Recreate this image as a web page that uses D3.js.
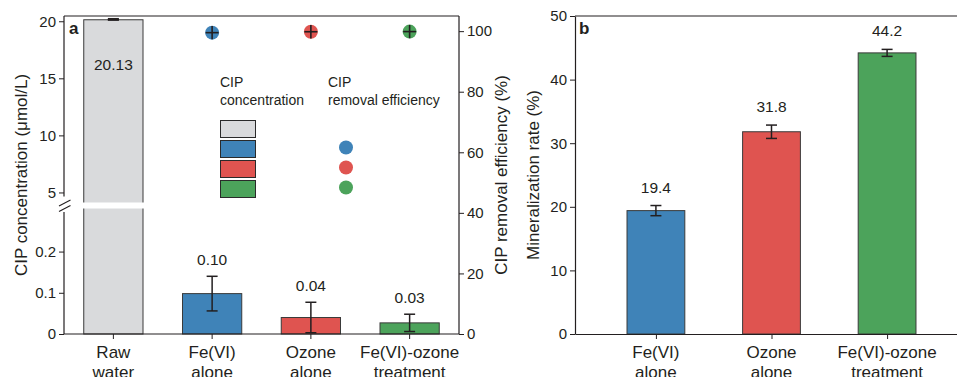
<!DOCTYPE html>
<html><head><meta charset="utf-8">
<script src="https://cdn.jsdelivr.net/npm/d3@7"></script>
<style>
body{margin:0;background:#fff;}
svg{font-family:"Liberation Sans",Arial,Helvetica,sans-serif;}
</style></head>
<body><svg id="c" width="957" height="377"></svg>
<script>
// ---------- data ----------
const catsA = ["Raw\nwater", "Fe(VI)\nalone", "Ozone\nalone", "Fe(VI)-ozone\ntreatment"];
const concValues = [20.13, 0.098, 0.040, 0.027];
const concErr = [0.03, 0.042, 0.037, 0.021];
const concLabels = ["20.13", "0.10", "0.04", "0.03"];
const removalValues = [null, 99.5, 99.8, 99.85];
const removalErr = [null, 2.2, 2.2, 2.2];
const upperTicks = [5, 10, 15, 20];
const lowerTicks = [0, 0.1, 0.2];
const rightTicks = [0, 20, 40, 60, 80, 100];

const catsB = ["Fe(VI)\nalone", "Ozone\nalone", "Fe(VI)-ozone\ntreatment"];
const mineralValues = [19.4, 31.8, 44.2];
const mineralErr = [0.8, 1.05, 0.55];
const mineralLabels = ["19.4", "31.8", "44.2"];
const mineralTicks = [0, 10, 20, 30, 40, 50];

const colors = ["#d9dadc", "#3f83b8", "#df5450", "#4ca35b"];
const ink = "#231f20";

const svg = d3.select("#c");
const font = "Liberation Sans, Arial, sans-serif";

// ---------- panel a ----------
const A = {left: 64, right: 459, top: 16, bottom: 334, breakHi: 202.5, breakLo: 208.5};
const xA = d3.scaleBand().domain(catsA).range([A.left, A.right]).paddingInner(0.4).paddingOuter(0.2);
const yLow = d3.scaleLinear().domain([0, 0.3045]).range([A.bottom, A.breakLo]);
const yUp = d3.scaleLinear().domain([4.12, 20.46]).range([A.breakHi, A.top]);
const yR = d3.scaleLinear().domain([0, 105]).range([A.bottom, A.top]);
function yConc(v){ return v > 0.31 ? yUp(v) : yLow(v); }

const gA = svg.append("g");
// bars
catsA.forEach((c, i) => {
  const v = concValues[i];
  const x0 = xA(c), w = xA.bandwidth();
  gA.append("rect").attr("x", x0).attr("y", yConc(v)).attr("width", w)
    .attr("height", A.bottom - yConc(v)).attr("fill", colors[i])
    .attr("stroke", "#3a3a3a").attr("stroke-width", 1);
});
// break gap across raw water bar
gA.append("rect").attr("x", xA(catsA[0]) - 3).attr("y", A.breakHi)
  .attr("width", xA.bandwidth() + 6).attr("height", A.breakLo - A.breakHi).attr("fill", "#fff");

// error bars
catsA.forEach((c, i) => {
  const v = concValues[i], e = concErr[i];
  const cx = xA(c) + xA.bandwidth() / 2;
  const y1 = yConc(v + e), y2 = yConc(Math.max(0, v - e));
  const g = gA.append("g").attr("stroke", ink).attr("stroke-width", i === 0 ? 1.2 : 1.5);
  g.append("line").attr("x1", cx).attr("x2", cx).attr("y1", y1).attr("y2", y2);
  g.append("line").attr("x1", cx - 5.5).attr("x2", cx + 5.5).attr("y1", y1).attr("y2", y1);
  g.append("line").attr("x1", cx - 5.5).attr("x2", cx + 5.5).attr("y1", y2).attr("y2", y2);
  if (i === 0) {
    gA.append("rect").attr("x", cx - 5.5).attr("y", yConc(v) - 1.8).attr("width", 11).attr("height", 2.6).attr("fill", ink);
  }
  // value labels
  const ly = i === 0 ? 70 : yConc(v + e) - 11;
  gA.append("text").attr("x", cx).attr("y", ly).attr("text-anchor", "middle")
    .attr("font-size", 15.5).attr("fill", ink).text(concLabels[i]);
});

// removal efficiency points
catsA.forEach((c, i) => {
  if (removalValues[i] == null) return;
  const cx = xA(c) + xA.bandwidth() / 2, cy = yR(removalValues[i]);
  gA.append("circle").attr("cx", cx).attr("cy", cy).attr("r", 7).attr("fill", colors[i]);
  const e = removalErr[i];
  gA.append("line").attr("x1", cx).attr("x2", cx).attr("y1", yR(removalValues[i] + e)).attr("y2", yR(removalValues[i] - e))
    .attr("stroke", ink).attr("stroke-width", 1.6);
  gA.append("line").attr("x1", cx - 6.5).attr("x2", cx + 6.5).attr("y1", cy).attr("y2", cy)
    .attr("stroke", ink).attr("stroke-width", 1.6);
});

// frame
gA.append("line").attr("x1", A.left).attr("x2", A.right).attr("y1", A.top).attr("y2", A.top).attr("stroke", ink).attr("stroke-width", 1.2);
gA.append("line").attr("x1", A.right).attr("x2", A.right).attr("y1", A.top).attr("y2", A.bottom).attr("stroke", ink).attr("stroke-width", 1.2);

function styleAxis(g, fs) {
  g.selectAll("path").attr("stroke", ink).attr("stroke-width", 1.2);
  g.selectAll("line").attr("stroke", ink).attr("stroke-width", 1);
  g.selectAll("text").attr("fill", ink).attr("font-size", fs).attr("font-family", font);
}
// left upper axis
const axUp = gA.append("g").attr("transform", `translate(${A.left},0)`)
  .call(d3.axisLeft(yUp).tickValues(upperTicks).tickSize(5).tickPadding(3).tickSizeOuter(0).tickFormat(d3.format("d")));
styleAxis(axUp, 15);
axUp.select("path").attr("d", `M0,${A.top}V${A.breakHi - 6}`);
const axLow = gA.append("g").attr("transform", `translate(${A.left},0)`)
  .call(d3.axisLeft(yLow).tickValues(lowerTicks).tickSize(5).tickPadding(3).tickSizeOuter(0).tickFormat(d => d === 0 ? "0" : d3.format(".1f")(d)));
styleAxis(axLow, 15);
axLow.select("path").attr("d", `M0,${A.breakLo + 3.5}V${A.bottom}`);
// break slashes
[0, 5.5].forEach(o => {
  gA.append("line").attr("x1", A.left - 5).attr("y1", 206 + o).attr("x2", A.left + 6.5).attr("y2", 200 + o)
    .attr("stroke", ink).attr("stroke-width", 1.1);
});
// right axis
const axR = gA.append("g").attr("transform", `translate(${A.right},0)`)
  .call(d3.axisRight(yR).tickValues(rightTicks).tickSize(5).tickPadding(3).tickSizeOuter(0));
styleAxis(axR, 15);
axR.select("path").remove();
// bottom axis
const axB = gA.append("g").attr("transform", `translate(0,${A.bottom})`)
  .call(d3.axisBottom(xA).tickSize(5).tickSizeOuter(0).tickFormat(""));
styleAxis(axB, 17);
axB.select("path").attr("d", `M${A.left},0H${A.right}`);
function multiLabels(scaleCenter, cats) {
  cats.forEach((c, i) => {
    const t = svg.append("text").attr("x", scaleCenter(c, i)).attr("y", 357.5).attr("text-anchor", "middle")
      .attr("font-size", 17).attr("fill", ink);
    c.split("\n").forEach((s, k) => t.append("tspan").attr("x", scaleCenter(c, i)).attr("dy", k === 0 ? 0 : 20).text(s));
  });
}
multiLabels((c) => xA(c) + xA.bandwidth() / 2, catsA);

// axis titles
svg.append("text").attr("transform", "translate(27,175) rotate(-90)").attr("text-anchor", "middle")
  .attr("font-size", 17).attr("fill", ink).text("CIP concentration (μmol/L)");
svg.append("text").attr("transform", "translate(507,175) rotate(-90)").attr("text-anchor", "middle")
  .attr("font-size", 17).attr("fill", ink).text("CIP removal efficiency (%)");
svg.append("text").attr("x", 69).attr("y", 34).attr("font-size", 17).attr("font-weight", "bold").attr("fill", ink).text("a");

// legend
const leg = svg.append("g").attr("fill", ink).attr("font-size", 14);
leg.append("text").attr("x", 220).attr("y", 87).text("CIP");
leg.append("text").attr("x", 220).attr("y", 105).text("concentration");
leg.append("text").attr("x", 328).attr("y", 87).text("CIP");
leg.append("text").attr("x", 328).attr("y", 105).text("removal efficiency");
colors.forEach((col, i) => {
  leg.append("rect").attr("x", 220.5).attr("y", 120.5 + i * 20).attr("width", 35).attr("height", 17)
    .attr("fill", col).attr("stroke", "#2a2a2a").attr("stroke-width", 1);
  if (i > 0) leg.append("circle").attr("cx", 346).attr("cy", 127.5 + i * 20).attr("r", 7).attr("fill", col);
});

// ---------- panel b ----------
const B = {left: 575, right: 968, top: 16, bottom: 334};
const xB = d3.scaleLinear().domain([0.3, 3.7]).range([B.left, B.right]);
const yB = d3.scaleLinear().domain([0, 50]).range([B.bottom, B.top]);
const gB = svg.append("g");
catsB.forEach((c, i) => {
  const v = mineralValues[i], e = mineralErr[i];
  const x0 = xB(i + 1 - 0.25), x1 = xB(i + 1 + 0.25), cx = xB(i + 1);
  gB.append("rect").attr("x", x0).attr("y", yB(v)).attr("width", x1 - x0).attr("height", B.bottom - yB(v))
    .attr("fill", colors[i + 1]).attr("stroke", "#3a3a3a").attr("stroke-width", 1);
  const g = gB.append("g").attr("stroke", ink).attr("stroke-width", 1.5);
  g.append("line").attr("x1", cx).attr("x2", cx).attr("y1", yB(v + e)).attr("y2", yB(v - e));
  g.append("line").attr("x1", cx - 5.5).attr("x2", cx + 5.5).attr("y1", yB(v + e)).attr("y2", yB(v + e));
  g.append("line").attr("x1", cx - 5.5).attr("x2", cx + 5.5).attr("y1", yB(v - e)).attr("y2", yB(v - e));
  gB.append("text").attr("x", cx).attr("y", yB(v + e) - 13).attr("text-anchor", "middle")
    .attr("font-size", 15.5).attr("fill", ink).text(mineralLabels[i]);
});
gB.append("line").attr("x1", B.left).attr("x2", B.right).attr("y1", B.top).attr("y2", B.top).attr("stroke", ink).attr("stroke-width", 1.2);
gB.append("line").attr("x1", B.right).attr("x2", B.right).attr("y1", B.top).attr("y2", B.bottom).attr("stroke", ink).attr("stroke-width", 1.2);
const axBL = gB.append("g").attr("transform", `translate(${B.left},0)`)
  .call(d3.axisLeft(yB).tickValues(mineralTicks).tickSize(5).tickPadding(3).tickSizeOuter(0));
styleAxis(axBL, 15);
const axBB = gB.append("g").attr("transform", `translate(0,${B.bottom})`)
  .call(d3.axisBottom(xB).tickValues([1, 2, 3]).tickSize(5).tickSizeOuter(0).tickFormat(""));
styleAxis(axBB, 17);
multiLabels((c, i) => xB(i + 1), catsB);
svg.append("text").attr("transform", "translate(539,175) rotate(-90)").attr("text-anchor", "middle")
  .attr("font-size", 17).attr("fill", ink).text("Mineralization rate (%)");
svg.append("text").attr("x", 579).attr("y", 34).attr("font-size", 17).attr("font-weight", "bold").attr("fill", ink).text("b");
</script></body></html>
